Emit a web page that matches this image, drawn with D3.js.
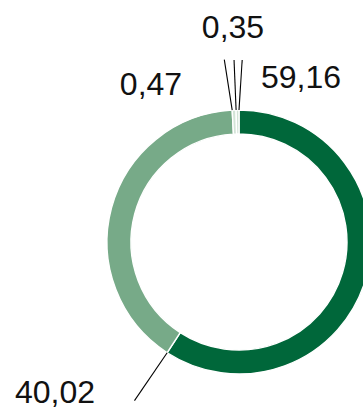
<!DOCTYPE html>
<html>
<head>
<meta charset="utf-8">
<script src="https://cdn.jsdelivr.net/npm/d3@7"></script>
<style>
  html, body { margin: 0; padding: 0; background: #fff; }
  svg { display: block; }
  text { font-family: "Liberation Sans", Arial, Helvetica, sans-serif; }
</style>
</head>
<body>
<svg id="chart" width="363" height="409"></svg>
<script>
// Share of each category (percent), clockwise from 12 o'clock
const categories = ["A", "B", "C", "D"];
const values = [59.16, 40.02, 0.47, 0.35];
const valueLabels = ["59,16", "40,02", "0,47", "0,35"];
const colors = ["#00673a", "#77aa88", "#d3e4d7", "#d3e4d7"];

// Label placement: text position relative to the centre, and the
// angular fan (degrees) of each leader line away from the slice start
const labelPos = [[62, -154], [-184, 161], [-88, -147], [-6, -204]];
const leaderFan = [1.0, 0.4, -1.65, -0.3];
const leaderReach = [182, 190, 183, 182];

const width = 363, height = 409;
const cx = 239, cy = 242;
const outerR = 132, innerR = 108;

const svg = d3.select("#chart");
const g = svg.append("g").attr("transform", `translate(${cx},${cy})`);

const pie = d3.pie().sort(null).value(d => d.value);
const data = categories.map((c, i) => ({ cat: c, value: values[i], label: valueLabels[i] }));
const arcs = pie(data);

const arc = d3.arc().innerRadius(innerR).outerRadius(outerR);

g.selectAll("path.slice")
  .data(arcs)
  .join("path")
  .attr("class", "slice")
  .attr("d", arc)
  .attr("fill", (d, i) => colors[i])
  .attr("stroke", "#fff")
  .attr("stroke-width", 1.4);

const polar = (a, r) => [Math.sin(a) * r, -Math.cos(a) * r];
const rad = deg => deg * Math.PI / 180;

g.selectAll("line.leader")
  .data(arcs)
  .join("line")
  .attr("class", "leader")
  .each(function (d, i) {
    const [x1, y1] = polar(d.startAngle, outerR);
    const [x2, y2] = polar(d.startAngle + rad(leaderFan[i]), leaderReach[i]);
    d3.select(this).attr("x1", x1).attr("y1", y1).attr("x2", x2).attr("y2", y2);
  })
  .attr("stroke", "#000")
  .attr("stroke-width", 1.1);

g.selectAll("text.value")
  .data(arcs)
  .join("text")
  .attr("class", "value")
  .attr("x", (d, i) => labelPos[i][0])
  .attr("y", (d, i) => labelPos[i][1])
  .attr("text-anchor", "middle")
  .attr("font-size", 32)
  .attr("fill", "#111")
  .text(d => d.data.label);
</script>
</body>
</html>
